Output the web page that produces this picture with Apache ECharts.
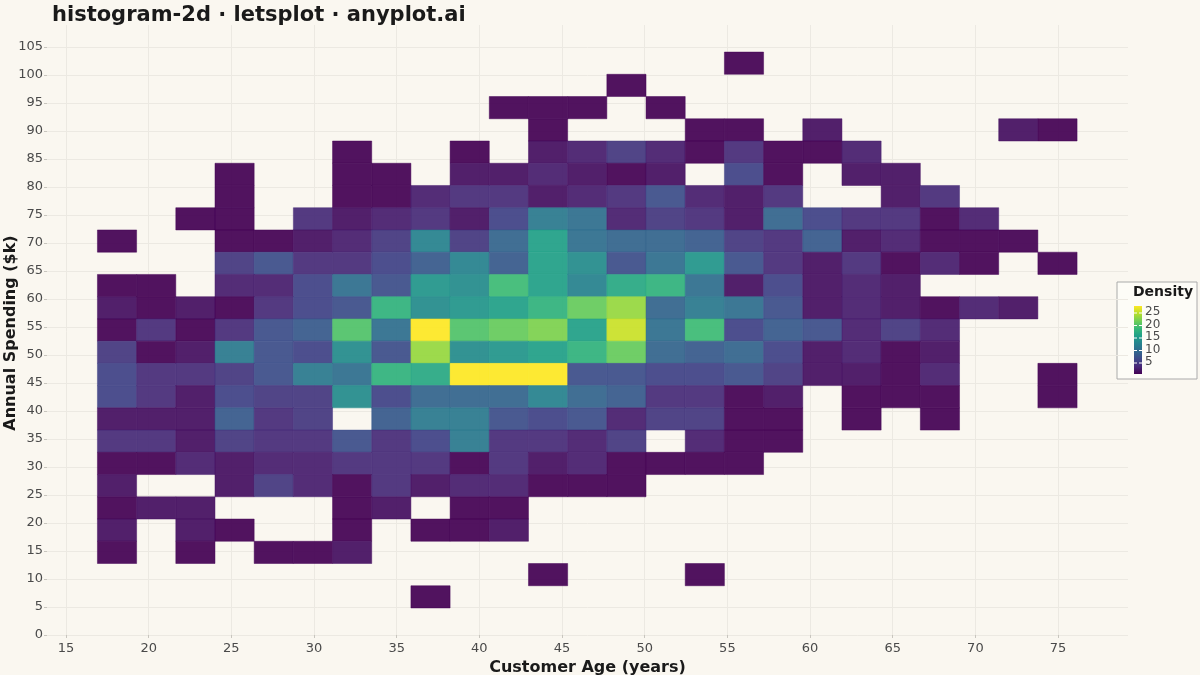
<!DOCTYPE html>
<html>
<head>
<meta charset="utf-8">
<script src="https://cdn.jsdelivr.net/npm/echarts@6/dist/echarts.min.js"></script>
<style>html,body{margin:0;padding:0;background:#faf7f0}#main{width:1200px;height:675px}</style>
</head>
<body>
<div id="main"></div>
<script>
// bin layout (age / spending)
var xStart = 16.9, xWidth = 2.37;
var yStart = 4.82, yHeight = 3.97;
var xTicks = [15, 20, 25, 30, 35, 40, 45, 50, 55, 60, 65, 70, 75];
var yTicks = [0, 5, 10, 15, 20, 25, 30, 35, 40, 45, 50, 55, 60, 65, 70, 75, 80, 85, 90, 95, 100, 105];
var legendTicks = [5, 10, 15, 20, 25];
var viridis = ['#440154', '#482878', '#3e4989', '#31688e', '#26828e', '#1f9e89', '#35b779', '#6ece58', '#b5de2b', '#fde725'];

// counts per row, top row first (25 columns each)
var rows = [
  '0 0 0 0 0 0 0 0 0 0 0 0 0 0 0 0 1 0 0 0 0 0 0 0 0',
  '0 0 0 0 0 0 0 0 0 0 0 0 0 1 0 0 0 0 0 0 0 0 0 0 0',
  '0 0 0 0 0 0 0 0 0 0 1 1 1 0 1 0 0 0 0 0 0 0 0 0 0',
  '0 0 0 0 0 0 0 0 0 0 0 1 0 0 0 1 1 0 2 0 0 0 0 2 1',
  '0 0 0 0 0 0 1 0 0 1 0 2 3 5 3 1 4 1 1 3 0 0 0 0 0',
  '0 0 0 1 0 0 1 1 0 2 2 3 2 1 2 0 6 1 0 2 2 0 0 0 0',
  '0 0 0 1 0 0 1 1 3 4 4 2 3 4 7 3 2 4 0 0 2 4 0 0 0',
  '0 0 1 1 0 4 2 3 4 2 6 11 10 3 5 4 2 9 6 4 4 1 3 0 0',
  '1 0 0 1 1 2 3 5 12 5 9 15 10 9 9 8 5 4 8 2 3 1 1 1 0',
  '0 0 0 5 7 4 4 6 8 12 8 15 13 7 10 14 7 4 2 4 1 3 1 0 1',
  '1 1 0 3 3 6 10 7 14 13 18 15 12 16 17 10 2 6 2 3 2 0 0 0 0',
  '2 1 2 1 4 6 7 17 13 14 15 17 20 22 9 11 10 7 2 3 2 1 3 2 0',
  '1 4 1 4 7 8 19 10 26 19 20 21 15 24 10 18 6 8 7 3 5 3 0 0 0',
  '5 1 2 11 7 6 13 7 22 13 14 15 17 20 9 8 9 6 2 3 1 2 0 0 0',
  '6 4 4 5 7 11 10 17 16 26 26 26 7 7 6 6 7 5 2 2 1 3 0 0 1',
  '6 4 2 6 5 5 13 6 9 9 9 12 9 8 4 4 1 2 0 1 1 1 0 0 1',
  '2 2 2 8 4 5 0 8 11 11 7 6 7 3 5 5 1 1 0 1 0 1 0 0 0',
  '4 4 2 5 4 4 7 4 6 11 4 4 3 5 0 3 1 1 0 0 0 0 0 0 0',
  '1 1 3 2 3 3 4 4 4 1 4 2 3 1 1 1 1 0 0 0 0 0 0 0 0',
  '2 0 0 2 5 3 1 4 2 3 3 1 1 1 0 0 0 0 0 0 0 0 0 0 0',
  '1 2 2 0 0 0 1 2 0 1 1 0 0 0 0 0 0 0 0 0 0 0 0 0 0',
  '2 0 2 1 0 0 1 0 1 1 2 0 0 0 0 0 0 0 0 0 0 0 0 0 0',
  '1 0 1 0 1 1 2 0 0 0 0 0 0 0 0 0 0 0 0 0 0 0 0 0 0',
  '0 0 0 0 0 0 0 0 0 0 0 1 0 0 0 1 0 0 0 0 0 0 0 0 0',
  '0 0 0 0 0 0 0 0 1 0 0 0 0 0 0 0 0 0 0 0 0 0 0 0 0'
];

var cells = [];
rows.forEach(function (r, ri) {
  r.split(' ').forEach(function (v, ci) {
    var n = +v;
    if (n > 0) {
      var x0 = xStart + ci * xWidth;
      var y0 = yStart + (rows.length - 1 - ri) * yHeight;
      cells.push([x0, y0, x0 + xWidth, y0 + yHeight, n]);
    }
  });
});

var myChart = echarts.init(document.getElementById('main'));
var axisName = { fontSize: 16, fontWeight: 'bold', color: '#1a1a1a', fontFamily: 'DejaVu Sans' };
var axisLab = { fontSize: 13, color: '#4a4a4a', fontFamily: 'DejaVu Sans' };
var split = { show: true, lineStyle: { color: '#ece9e2', width: 1 } };
var tick = function (vals) {
  return { show: true, customValues: vals, length: 3, lineStyle: { color: '#c8c5be' } };
};

var gradStops = viridis.map(function (c, i) { return { offset: 1 - i / (viridis.length - 1), color: c }; });
var barTop = 306, barBottom = 374, barMin = 0.6, barMax = 27.8;
var legendGraphics = [
  { type: 'rect', shape: { x: 1117, y: 282, width: 80, height: 97 }, style: { fill: '#fdfcf7', stroke: '#aaaaaa', lineWidth: 1 } },
  { type: 'text', left: 1133, top: 285, style: { text: 'Density', font: 'bold 14px DejaVu Sans', fill: '#1a1a1a' } },
  { type: 'rect', shape: { x: 1134, y: barTop, width: 8, height: barBottom - barTop }, style: { fill: new echarts.graphic.LinearGradient(0, 0, 0, 1, gradStops) } },
  { type: 'text', x: 11, y: 333, rotation: Math.PI / 2,
    style: { text: 'Annual Spending ($k)', font: 'bold 16px DejaVu Sans', fill: '#1a1a1a', align: 'center', verticalAlign: 'middle' } }
];
legendTicks.forEach(function (t) {
  var yy = barBottom - (t - barMin) / (barMax - barMin) * (barBottom - barTop);
  legendGraphics.push({ type: 'line', shape: { x1: 1134, y1: yy, x2: 1137, y2: yy }, style: { stroke: '#ffffff', lineWidth: 1 } });
  legendGraphics.push({ type: 'line', shape: { x1: 1139, y1: yy, x2: 1142, y2: yy }, style: { stroke: '#ffffff', lineWidth: 1 } });
  legendGraphics.push({ type: 'text', left: 1145, top: yy - 7, style: { text: String(t), font: '12px DejaVu Sans', fill: '#4a4a4a' } });
});

var option = {
  backgroundColor: '#faf7f0',
  animation: false,
  title: {
    text: 'histogram-2d · letsplot · anyplot.ai',
    left: 47, top: 0,
    textStyle: { fontSize: 21, fontWeight: 'bold', color: '#1a1a1a', fontFamily: 'DejaVu Sans' }
  },
  grid: { left: 47, right: 72, top: 25, bottom: 37, outerBoundsMode: 'none' },
  xAxis: {
    type: 'value', min: 13.85, max: 79.23,
    name: 'Customer Age (years)', nameLocation: 'middle', nameGap: 20, nameTextStyle: axisName,
    axisLine: { show: false }, axisTick: tick(xTicks),
    axisLabel: Object.assign({ customValues: xTicks, margin: 4 }, axisLab),
    splitLine: split
  },
  yAxis: {
    type: 'value', min: -0.54, max: 108.9,
    axisLine: { show: false }, axisTick: tick(yTicks),
    axisLabel: Object.assign({ customValues: yTicks, margin: 4 }, axisLab),
    splitLine: split
  },
  visualMap: { show: false, min: 1, max: 26, dimension: 4, inRange: { color: viridis } },
  graphic: legendGraphics,
  series: [{
    type: 'custom',
    data: cells,
    encode: { x: [0, 2], y: [1, 3] },
    renderItem: function (params, api) {
      var p0 = api.coord([api.value(0), api.value(3)]);
      var p1 = api.coord([api.value(2), api.value(1)]);
      return {
        type: 'rect',
        shape: { x: p0[0], y: p0[1], width: p1[0] - p0[0], height: p1[1] - p0[1] },
        style: { fill: api.visual('color'), stroke: api.visual('color'), lineWidth: 0.5, opacity: 0.93 }
      };
    }
  }]
};
myChart.setOption(option);
</script>
</body>
</html>
